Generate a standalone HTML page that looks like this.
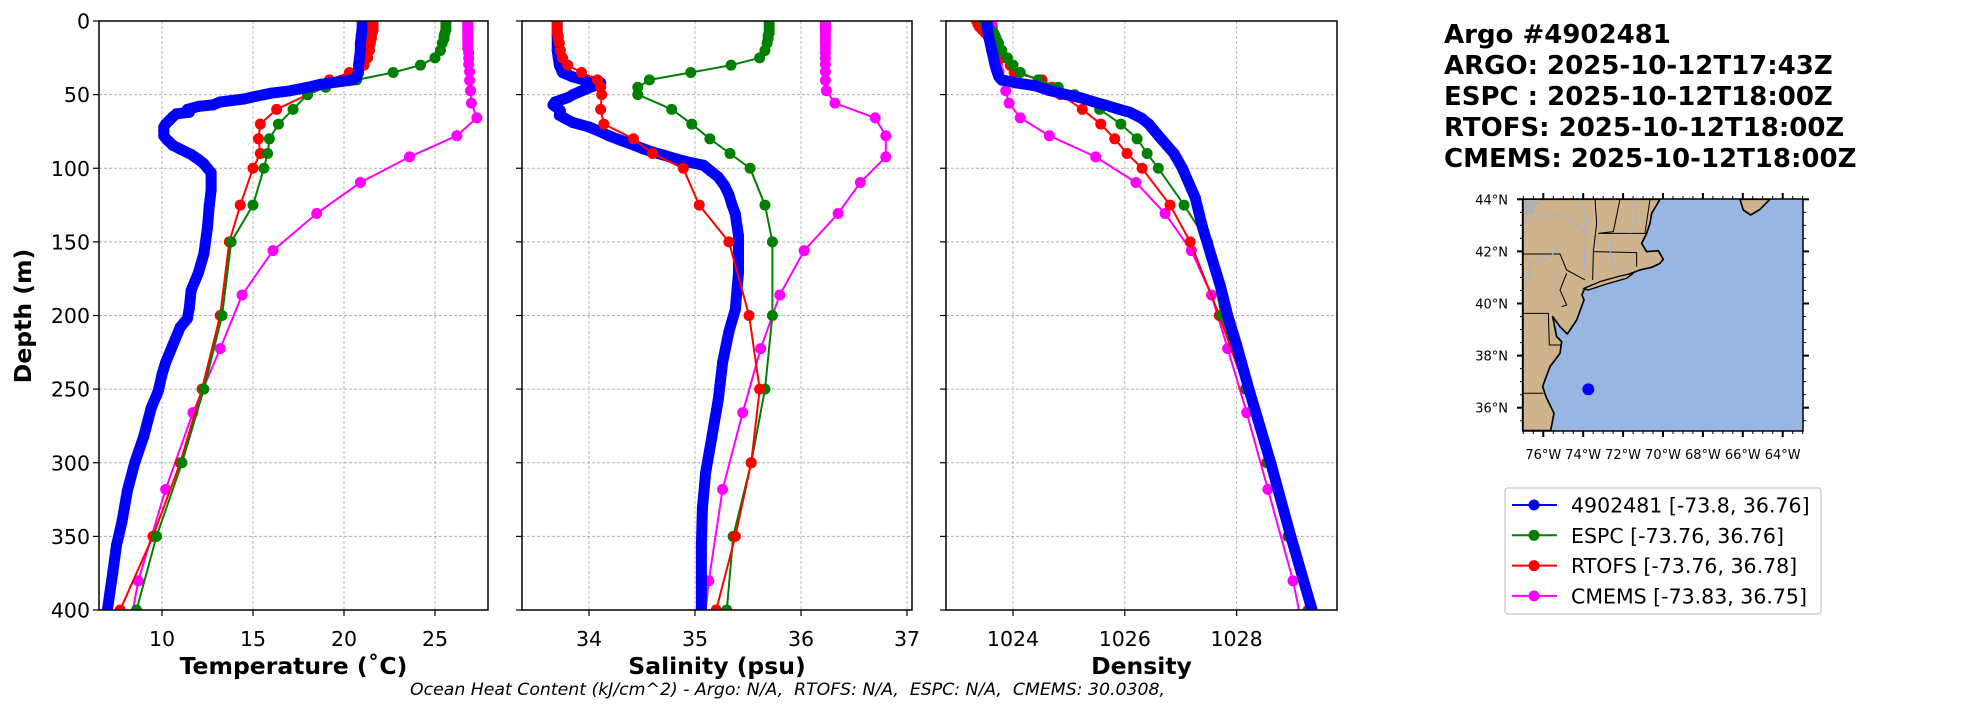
<!DOCTYPE html>
<html><head><meta charset="utf-8"><style>
html,body{margin:0;padding:0;background:#fff;}
svg{display:block;font-family:"DejaVu Sans","Liberation Sans",sans-serif;}
</style></head><body>
<svg id="fig" width="1967" height="712" viewBox="0 0 1967 712" xmlns="http://www.w3.org/2000/svg">
<defs>
<clipPath id="c1"><rect x="99" y="21" width="389" height="589"/></clipPath>
<clipPath id="c2"><rect x="522" y="21" width="390" height="589"/></clipPath>
<clipPath id="c3"><rect x="946" y="21" width="391" height="589"/></clipPath>
</defs>
<g id="panels"></g>
<text transform="translate(31,316) rotate(-90)" text-anchor="middle" font-size="23.5" font-weight="bold">Depth (m)</text>
<text x="410" y="695" font-size="17.3" font-style="italic" style="white-space:pre" xml:space="preserve">Ocean Heat Content (kJ/cm^2) - Argo: N/A,  RTOFS: N/A,  ESPC: N/A,  CMEMS: 30.0308,</text>
<g font-size="26" font-weight="bold">
<text x="1444" y="43">Argo #4902481</text>
<text x="1444" y="74">ARGO: 2025-10-12T17:43Z</text>
<text x="1444" y="105">ESPC : 2025-10-12T18:00Z</text>
<text x="1444" y="136">RTOFS: 2025-10-12T18:00Z</text>
<text x="1444" y="167">CMEMS: 2025-10-12T18:00Z</text>
</g>
<g>
<rect x="1523" y="199" width="280" height="232" fill="#97b6e1"/>
<g transform="translate(1460,180) scale(0.3333)">
<path fill="#cfb38c" stroke="#000" stroke-width="5" stroke-linejoin="round" d="M188,58 L600,58 L590,75 L575,100 L570,130 L560,160 L545,190 L560,215 L595,212 L610,238 L600,250 L575,262 L540,270 L500,285 L450,300 L400,315 L372,330 L366,345 L372,360 L350,420 L322,462 L300,440 L278,410 L290,470 L305,485 L300,520 L270,560 L255,600 L248,620 L258,650 L282,700 L272,752 L188,752 Z"/>
<path fill="#cfb38c" stroke="#000" stroke-width="5" d="M840,58 L850,90 L872,105 L900,88 L930,58 Z"/>
<path fill="#b0b0b0" d="M190,60 L235,60 L222,100 L190,110 Z"/>
<path fill="#cfb38c" stroke="#000" stroke-width="4" d="M372,325 L420,305 L480,288 L520,280 L500,295 L440,312 L385,330 Z"/>
<g fill="none" stroke="#000" stroke-width="3">
<path d="M405,58 L410,130 L400,215 L398,300"/><path d="M480,58 L460,155 L415,160 L560,160"/><path d="M400,215 L530,218 L530,260"/><path d="M188,222 L300,222 L320,270 L375,300"/><path d="M320,280 L300,330 L320,375 L305,380"/><path d="M188,400 L265,400 L268,495 L305,495"/><path d="M188,640 L250,640"/><path d="M570,58 L555,160"/>
</g>
<g fill="none" stroke="#97b6e1" stroke-width="3"><path d="M360,58 L380,120 L372,270"/><path d="M190,130 L260,100 L320,110 L380,160"/><path d="M200,320 L210,250 L260,240 L300,200"/><path d="M455,165 L450,230 L470,270"/><path d="M520,58 L530,120 L510,160"/></g>
<circle cx="385" cy="628" r="18" fill="#0000ff"/>
</g>
<rect x="1523" y="199" width="280" height="232" fill="none" stroke="#000" stroke-width="1.5"/>
<g id="mapticks" font-size="13"></g>
</g>
<g>
<rect x="1505" y="488" width="316" height="126" rx="3" fill="#fff" stroke="#d0d0d0" stroke-width="1.5"/>
<g id="legend-entries" font-size="20.5"></g>
</g>
</svg>
<script>
// ---- data ----
const argoDepthT = [0,5,10,15,20,25,30,35,38,40,43,45,47.5,49,51,53,55,57,58,60,62,63,65,67.5,70,72,75,78,81,84.5,87,90.6,94,97,103,115,125,140,158,171,183,195,202,208,220,232,240,251,263,282,300,319,340,356,374,400];
const argoTemp = [21.0,21.0,20.95,20.9,20.9,20.85,20.8,20.8,20.7,20.5,18.7,18.0,17.0,16.0,15.2,14.5,13.2,12.8,12.0,11.4,11.5,10.8,10.6,10.4,10.2,10.1,10.1,10.1,10.3,10.6,11.0,11.6,12.0,12.3,12.7,12.7,12.6,12.5,12.3,12.0,11.6,11.5,11.4,11.0,10.6,10.2,10.0,9.8,9.4,9.0,8.5,8.1,7.8,7.5,7.3,7.0];
const argoDepthS = [0,10,20,25,30,35,38,40,42,44,47.5,50,52,55,57,59,61,64,66,69,72,75,78,81,84.5,87,89,91,94,96,98,102,106,112,118,125,131,146,171,196,211,232,257,282,307,331,356,380,400];
const argoSal = [33.70,33.70,33.70,33.71,33.72,33.75,33.85,33.95,34.11,34.05,33.93,33.85,33.80,33.68,33.66,33.70,33.73,33.72,33.77,33.85,34.00,34.10,34.19,34.30,34.43,34.52,34.60,34.70,34.84,34.95,35.08,35.15,35.22,35.28,35.32,35.35,35.38,35.41,35.41,35.38,35.32,35.26,35.22,35.16,35.10,35.07,35.06,35.06,35.06];
const argoDepthD = [0,10,20,30,35,38,40,42,44,47,50,52,55,57,60,62,66,70,80,90,100,120,140,160,180,200,220,250,300,350,400];
const argoDens = [1023.53,1023.56,1023.62,1023.68,1023.72,1023.75,1023.8,1024.05,1024.4,1024.63,1024.95,1025.2,1025.45,1025.64,1025.9,1026.09,1026.3,1026.43,1026.65,1026.88,1027.03,1027.26,1027.39,1027.55,1027.71,1027.84,1028.0,1028.22,1028.61,1028.97,1029.35];
const modelDepth = [0,2,4,6,8,10,12,15,20,25,30,35,40,45,50,60,70,80,90,100,125,150,200,250,300,350,400];
const espcTemp = [25.6,25.6,25.6,25.6,25.55,25.5,25.5,25.4,25.3,25.0,24.2,22.7,20.7,19.0,18.0,17.2,16.4,15.9,15.8,15.6,15.0,13.8,13.3,12.3,11.1,9.7,8.6];
const espcSal = [35.70,35.70,35.70,35.70,35.70,35.69,35.69,35.68,35.66,35.61,35.34,34.96,34.57,34.46,34.46,34.78,34.97,35.14,35.33,35.52,35.66,35.73,35.73,35.66,35.53,35.36,35.30];
const espcDens = [1023.48,1023.5,1023.55,1023.6,1023.65,1023.68,1023.7,1023.74,1023.8,1023.9,1024.0,1024.13,1024.45,1024.81,1025.1,1025.55,1025.93,1026.22,1026.4,1026.6,1027.06,1027.48,1027.73,1028.18,1028.56,1028.94,1029.3];
const rtofsTemp = [21.6,21.6,21.6,21.6,21.55,21.5,21.5,21.45,21.4,21.3,21.1,20.3,19.2,18.3,18.0,16.3,15.4,15.3,15.4,15.0,14.3,13.7,13.2,12.2,11.0,9.5,7.7];
const rtofsSal = [33.70,33.70,33.70,33.70,33.70,33.71,33.71,33.72,33.73,33.75,33.80,33.93,34.08,34.11,34.12,34.11,34.14,34.42,34.60,34.89,35.04,35.32,35.51,35.61,35.53,35.38,35.20];
const rtofsDens = [1023.35,1023.37,1023.4,1023.45,1023.5,1023.55,1023.6,1023.65,1023.62,1023.8,1023.95,1024.02,1024.52,1024.7,1024.85,1025.24,1025.57,1025.82,1026.04,1026.31,1026.81,1027.17,1027.69,1028.16,1028.54,1028.92,1029.28];
const cmemsDepth = [0.49,1.54,2.65,3.82,5.08,6.44,7.93,9.57,11.4,13.47,15.81,18.5,21.6,25.2,29.4,34.4,40.3,47.4,55.8,65.8,77.9,92.3,109.7,130.7,155.9,186.1,222.5,266.0,318.1,380.2,453.9];
const cmemsTemp = [26.8,26.8,26.8,26.8,26.8,26.8,26.8,26.8,26.8,26.8,26.8,26.8,26.85,26.85,26.85,26.9,26.9,26.95,27.0,27.3,26.2,23.6,20.9,18.5,16.1,14.4,13.2,11.7,10.2,8.7,7.6];
const cmemsSal = [36.23,36.23,36.23,36.23,36.23,36.23,36.23,36.23,36.23,36.23,36.23,36.23,36.23,36.23,36.23,36.23,36.23,36.24,36.32,36.70,36.80,36.80,36.56,36.35,36.03,35.80,35.62,35.45,35.26,35.13,35.02];
const cmemsDens = [1023.62,1023.62,1023.62,1023.63,1023.63,1023.63,1023.64,1023.64,1023.65,1023.65,1023.66,1023.67,1023.68,1023.7,1023.72,1023.75,1023.8,1023.87,1023.93,1024.13,1024.65,1025.48,1026.2,1026.72,1027.19,1027.55,1027.84,1028.18,1028.56,1029.01,1029.4];
const depthTicks = [0,50,100,150,200,250,300,350,400];
const tempTicks = [10,15,20,25];
const salTicks = [34,35,36,37];
const densTicks = [1024,1026,1028];
const legendLabels = ["4902481 [-73.8, 36.76]","ESPC [-73.76, 36.76]","RTOFS [-73.76, 36.78]","CMEMS [-73.83, 36.75]"];
const latTicks = [36,38,40,42,44];
const lonTicks = [-76,-74,-72,-70,-68,-66,-64];

const NS="http://www.w3.org/2000/svg";
function mk(tag,attrs,parent){const e=document.createElementNS(NS,tag);for(const k in attrs)e.setAttribute(k,attrs[k]);parent.appendChild(e);return e;}
const yD = d => 21 + d*589/400;
const COLORS = {argo:"#0000ff",espc:"#008000",rtofs:"#ff0000",cmems:"#ff00ff"};
const panelsG=document.getElementById('panels');
const panels=[
 {name:'temperature',x0:99,x1:488,sc:v=>162+(v-10)*18.2,ticks:tempTicks,label:'Temperature (˚C)',clip:'c1',
  series:[['cmems',cmemsDepth,cmemsTemp],['rtofs',modelDepth,rtofsTemp],['espc',modelDepth,espcTemp],['argo',argoDepthT,argoTemp]]},
 {name:'salinity',x0:522,x1:912,sc:v=>589+(v-34)*106,ticks:salTicks,label:'Salinity (psu)',clip:'c2',
  series:[['cmems',cmemsDepth,cmemsSal],['espc',modelDepth,espcSal],['argo',argoDepthS,argoSal],['rtofs',modelDepth,rtofsSal]]},
 {name:'density',x0:946,x1:1337,sc:v=>1013+(v-1024)*55.9,ticks:densTicks,label:'Density',clip:'c3',
  series:[['cmems',cmemsDepth,cmemsDens],['rtofs',modelDepth,rtofsDens],['espc',modelDepth,espcDens],['argo',argoDepthD,argoDens]]}
];
panels.forEach((p,pi)=>{
  const g=mk('g',{},panelsG);
  
  
  depthTicks.forEach(d=>{
    const y=yD(d);
    const gl=mk('line',{x1:p.x0,x2:p.x1,y1:y,y2:y,stroke:'#b0b0b0','stroke-width':0.9,'stroke-dasharray':'3,2'},g);
    
    
    mk('line',{x1:p.x0-6,x2:p.x0,y1:y,y2:y,stroke:'#000','stroke-width':1.2},g);
    if(pi===0){
      const t=mk('text',{x:p.x0-9,y:y+7.5,'text-anchor':'end','font-size':20.5},g);
      
      
      t.textContent=d;
    }
  });
  p.ticks.forEach(v=>{
    const x=p.sc(v);
    const gl=mk('line',{x1:x,x2:x,y1:21,y2:610,stroke:'#b0b0b0','stroke-width':0.9,'stroke-dasharray':'3,2'},g);
    
    
    mk('line',{x1:x,x2:x,y1:610,y2:616,stroke:'#000','stroke-width':1.2},g);
    const t=mk('text',{x:x,y:646,'text-anchor':'middle','font-size':20.5},g);
    
    
    t.textContent=v;
  });
  const sg=mk('g',{'clip-path':'url(#'+p.clip+')'},g);
  p.series.forEach(([key,dep,val])=>{
    const pts=dep.map((d,i)=>p.sc(val[i]).toFixed(1)+','+yD(d).toFixed(1)).join(' ');
    const isArgo=key==='argo';
    const ln=mk('polyline',{points:pts,fill:'none',stroke:COLORS[key],'stroke-width':isArgo?11:2,'stroke-linejoin':'round','stroke-linecap':'round'},sg);
    
    
    dep.forEach((d,i)=>{
      const c=mk('circle',{cx:p.sc(val[i]),cy:yD(d),r:5.5,fill:COLORS[key]},sg);
      
      
    });
  });
  mk('rect',{x:p.x0,y:21,width:p.x1-p.x0,height:589,fill:'none',stroke:'#000','stroke-width':1.5},g);
  const lab=mk('text',{x:(p.x0+p.x1)/2,y:674,'text-anchor':'middle','font-size':23.5,'font-weight':'bold'},g);
  
  
  lab.textContent=p.label;
});
// map ticks
const mt=document.getElementById('mapticks');
const mx=lon=>1543.3+(lon+76)*19.95, my=lat=>407.7-(lat-36)*26.05;
for(let lat=35.5;lat<=44;lat+=0.5){const y=my(lat);const major=latTicks.includes(lat);const L=major?6:3;
  mk('line',{x1:1523-L,x2:1523,y1:y,y2:y,stroke:'#000','stroke-width':major?2:1},mt);
  mk('line',{x1:1803,x2:1803+L,y1:y,y2:y,stroke:'#000','stroke-width':major?2:1},mt);}
for(let lon=-77;lon<=-63;lon+=0.5){const x=mx(lon);const major=lonTicks.includes(lon);const L=major?6:3;
  mk('line',{x1:x,x2:x,y1:199-L,y2:199,stroke:'#000','stroke-width':major?2:1},mt);
  mk('line',{x1:x,x2:x,y1:431,y2:431+L,stroke:'#000','stroke-width':major?2:1},mt);}
latTicks.forEach(lat=>{const t=mk('text',{x:1508,y:my(lat)+5,'text-anchor':'end'},mt);
  
  
  t.textContent=lat+'°N';});
lonTicks.forEach(lon=>{const t=mk('text',{x:mx(lon),y:459,'text-anchor':'middle'},mt);
  
  
  t.textContent=(-lon)+'°W';});
// legend
const lg=document.getElementById('legend-entries');
['argo','espc','rtofs','cmems'].forEach((k,i)=>{
  const y=505+i*30.3;
  const e=mk('g',{},lg);
  
  
  mk('line',{x1:1512,x2:1557,y1:y,y2:y,stroke:COLORS[k],'stroke-width':2},e);
  mk('circle',{cx:1534,cy:y,r:5.5,fill:COLORS[k]},e);
  const t=mk('text',{x:1571,y:y+7.5},e);
  t.textContent=legendLabels[i];
});
</script>
</body></html>
